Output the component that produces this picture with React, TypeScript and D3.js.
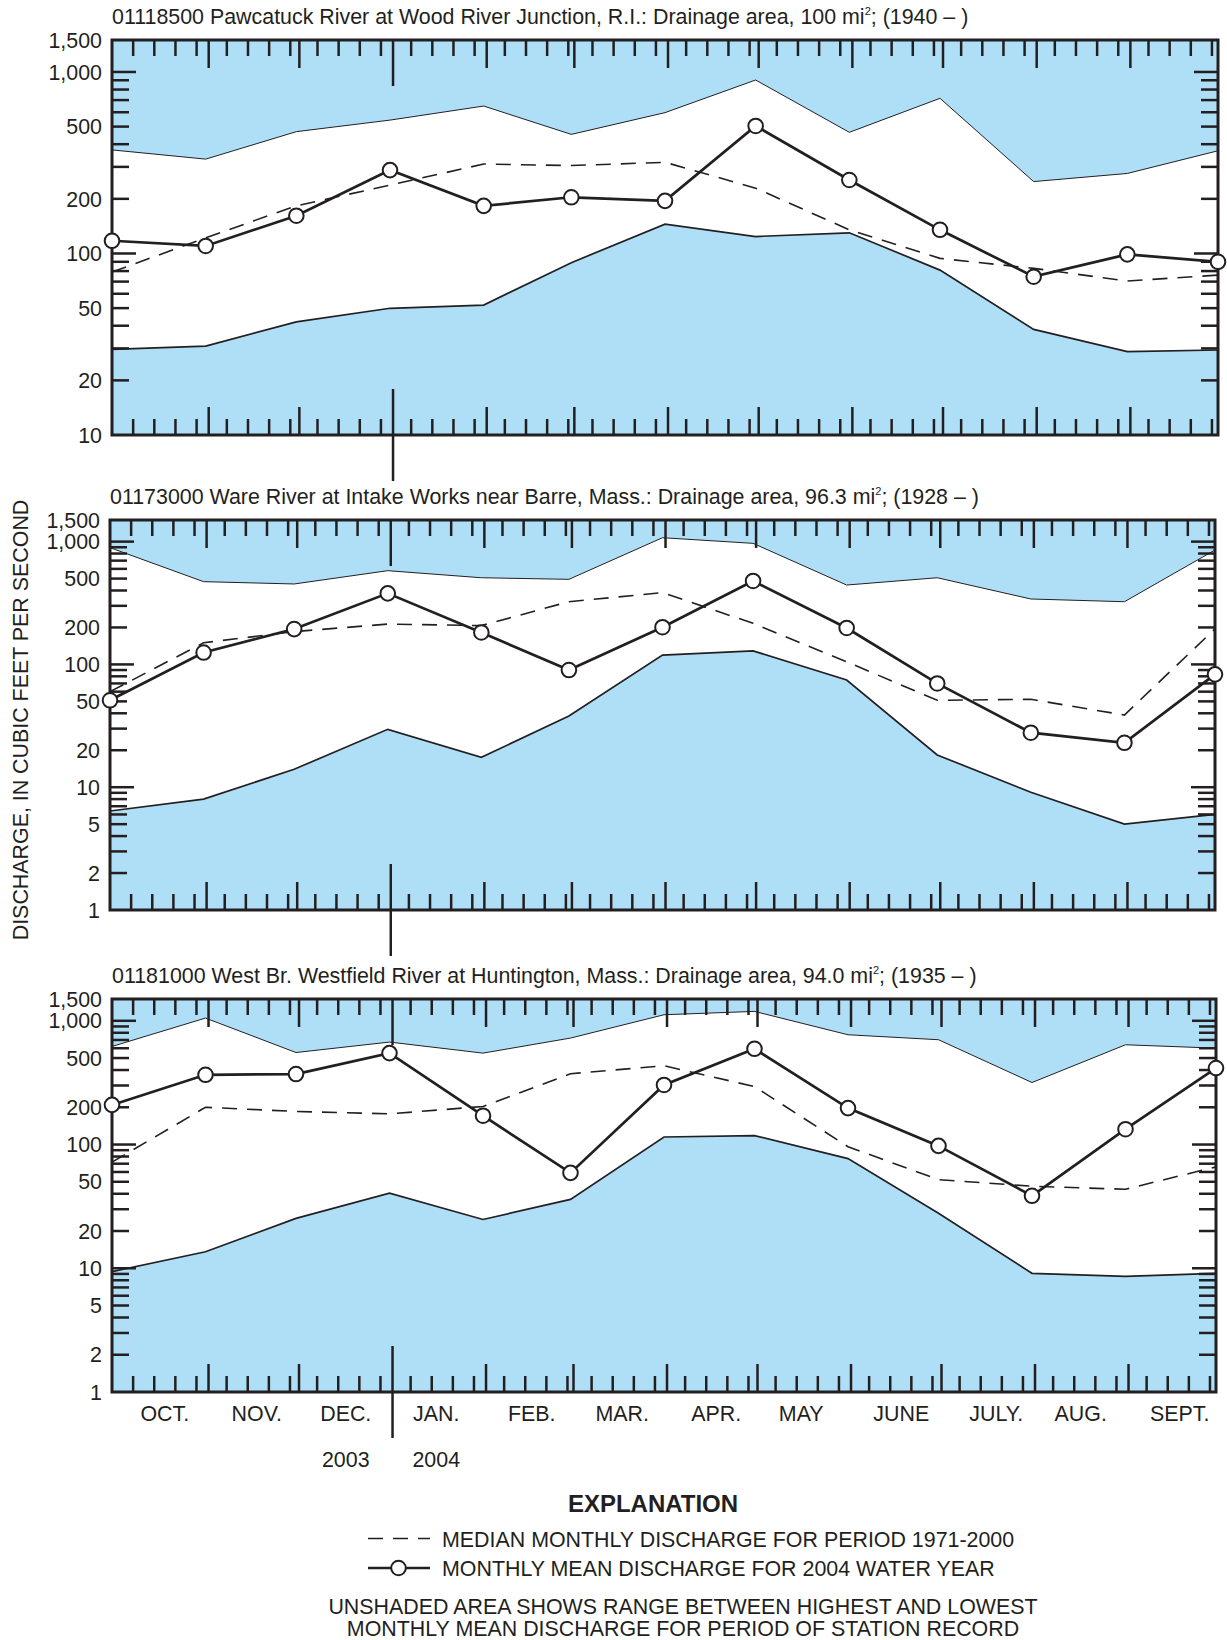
import React from 'react';
import * as d3 from 'd3';

// ---------------- DATA ----------------
const MONTH_LABELS = ['OCT.', 'NOV.', 'DEC.', 'JAN.', 'FEB.', 'MAR.', 'APR.', 'MAY', 'JUNE', 'JULY.', 'AUG.', 'SEPT.'];
const YEAR_LABELS = ['2003', '2004'];

const TITLE_MAIN = [
  '01118500 Pawcatuck River at Wood River Junction, R.I.: Drainage area, 100 mi',
  '01173000 Ware River at Intake Works near Barre, Mass.: Drainage area, 96.3 mi',
  '01181000 West Br. Westfield River at Huntington, Mass.: Drainage area, 94.0 mi',
];
const TITLE_RECORD = ['; (1940 – )', '; (1928 – )', '; (1935 – )'];

// values at Oct 1 2003 ... Oct 1 2004 (13 points)
const MAX_PAWCATUCK = [372, 331, 469, 543, 649, 453, 597, 903, 465, 716, 249, 276, 368];
const MIN_PAWCATUCK = [29.6, 30.9, 42, 49.9, 52, 89, 145, 124, 130, 81, 38.2, 28.8, 29.4];
const MEDIAN_PAWCATUCK = [79, 122, 183, 238, 311, 305, 318, 229, 135, 94, 82.8, 70.5, 76];
const MEAN_PAWCATUCK = [117.5, 110, 161.5, 288, 183, 204, 195, 504, 254, 135, 74.5, 98.9, 90];

const MAX_WARE = [893, 472, 452, 580, 508, 493, 1076, 968, 443, 508, 341, 324, 855];
const MIN_WARE = [6.4, 8.0, 14, 29.6, 17.5, 38, 119, 129, 74.6, 18.3, 9.1, 5.0, 6.0];
const MEDIAN_WARE = [60, 150, 185, 213, 207, 324, 384, 216, 105, 51, 52, 38.7, 195];
const MEAN_WARE = [51, 125, 194, 379, 182, 90, 201, 478, 198, 70, 27.8, 23, 83];

const MAX_WESTFIELD = [620, 1052, 554, 673, 548, 725, 1119, 1191, 771, 703, 317, 640, 601];
const MIN_WESTFIELD = [9.4, 13.6, 25.3, 40.4, 24.8, 36, 115, 118, 77, 27.8, 9.1, 8.6, 9.1];
const MEDIAN_WESTFIELD = [72, 200, 185, 177, 203, 373, 433, 294, 96, 52, 46, 43.5, 66];
const MEAN_WESTFIELD = [209, 366, 371, 548, 171, 59, 303, 594, 197, 97.5, 38.5, 133, 415];

const Y_DOMAIN_1 = [10, 1500];
const Y_DOMAIN_23 = [1, 1500];
const Y_LABELS_1 = [1500, 1000, 500, 200, 100, 50, 20, 10];
const Y_LABELS_23 = [1500, 1000, 500, 200, 100, 50, 20, 10, 5, 2, 1];

const Y_TITLE = 'DISCHARGE, IN CUBIC FEET PER SECOND';
const LEGEND_HEAD = 'EXPLANATION';
const LEGEND_MEDIAN = 'MEDIAN MONTHLY DISCHARGE FOR PERIOD 1971-2000';
const LEGEND_MEAN = 'MONTHLY MEAN DISCHARGE FOR 2004 WATER YEAR';
const NOTE_LINES = [
  'UNSHADED AREA SHOWS RANGE BETWEEN HIGHEST AND LOWEST',
  'MONTHLY MEAN DISCHARGE FOR PERIOD OF STATION RECORD',
];

// ---------------- LAYOUT / STYLE ----------------
const W = 1227;
const H = 1640;
const FONT = '"Liberation Sans", Arial, Helvetica, sans-serif';
const FS = 21.4;
const INK = '#231f20';
const BLUE = '#aedff7';
// small typesetting nudges of month labels from mid-month (px)
const LABEL_NUDGE = [6, 6, 3, 0, 5, 5, 7, 0, 8, 11, 2, 9];

const PANELS = [
  { top: 40, bottom: 435, left: 112, right: 1218, domain: Y_DOMAIN_1, labels: Y_LABELS_1,
    max: MAX_PAWCATUCK, min: MIN_PAWCATUCK, median: MEDIAN_PAWCATUCK, mean: MEAN_PAWCATUCK },
  { top: 520, bottom: 910, left: 110, right: 1215, domain: Y_DOMAIN_23, labels: Y_LABELS_23,
    max: MAX_WARE, min: MIN_WARE, median: MEDIAN_WARE, mean: MEAN_WARE },
  { top: 999, bottom: 1392, left: 112, right: 1216, domain: Y_DOMAIN_23, labels: Y_LABELS_23,
    max: MAX_WESTFIELD, min: MIN_WESTFIELD, median: MEDIAN_WESTFIELD, mean: MEAN_WESTFIELD },
];

const START = new Date(Date.UTC(2003, 9, 1));
const END = new Date(Date.UTC(2004, 9, 1));
const POINT_DATES = d3.utcMonth.range(START, new Date(Date.UTC(2004, 9, 2)));
const MONTH_STARTS = d3.utcMonth.range(START, END);

function minorTickDates(): Date[] {
  const out: Date[] = [];
  MONTH_STARTS.forEach((m) => {
    [8, 15, 22, 29].forEach((d) => {
      const dt = new Date(Date.UTC(m.getUTCFullYear(), m.getUTCMonth(), d));
      if (dt.getUTCMonth() === m.getUTCMonth()) out.push(dt);
    });
  });
  return out;
}
const MINOR_DATES = minorTickDates();
// month-boundary ticks sit at the end of the first day of each month
const MAJOR_DATES = MONTH_STARTS.slice(1).map((m) => d3.utcDay.offset(m, 1));
const YEAR_DATE = d3.utcDay.offset(new Date(Date.UTC(2004, 0, 1)), 1);

function Panel({ p, idx }: { p: any; idx: number }) {
  const x = d3.scaleUtc().domain([START, END]).range([p.left, p.right]);
  const y = d3.scaleLog().domain(p.domain).range([p.bottom, p.top]);
  const pts = (vals: number[]) => vals.map((v, i) => [x(POINT_DATES[i]), y(v)] as [number, number]);

  const area = d3.area<number>()
    .x((_, i) => x(POINT_DATES[i]))
    .y0((_, i) => y(p.min[i]))
    .y1((v) => y(v));
  const line = d3.line<[number, number]>();

  const yTicks = y.ticks().filter((v: number) => v > p.domain[0] && v < p.domain[1]);
  const isDecade = (v: number) => Math.abs(Math.log10(v) - Math.round(Math.log10(v))) < 1e-9;

  const tickW = 2.5;
  const minorLen = 16;
  const majorLen = 28;
  const yearLen = 46;
  const clipId = `clip${idx}`;

  return (
    <g>
      <defs>
        <clipPath id={clipId}>
          <rect x={p.left} y={p.top} width={p.right - p.left} height={p.bottom - p.top} />
        </clipPath>
      </defs>
      <text x={p.left} y={p.top - 16} fontSize={FS} fill={INK}>
        {TITLE_MAIN[idx]}
        <tspan fontSize={11} dy={-9}>2</tspan>
        <tspan dy={9}>{TITLE_RECORD[idx]}</tspan>
      </text>
      <rect x={p.left} y={p.top} width={p.right - p.left} height={p.bottom - p.top} fill={BLUE} />
      <g clipPath={`url(#${clipId})`}>
        <path d={area(p.max) || ''} fill="#ffffff" />
        <path d={line(pts(p.max)) || ''} fill="none" stroke={INK} strokeWidth={1} />
        <path d={line(pts(p.min)) || ''} fill="none" stroke={INK} strokeWidth={1.7} />
      </g>
      {/* x ticks */}
      {MINOR_DATES.map((d, i) => (
        <g key={`mn${i}`} stroke={INK} strokeWidth={tickW}>
          <line x1={x(d)} x2={x(d)} y1={p.top} y2={p.top + minorLen} />
          <line x1={x(d)} x2={x(d)} y1={p.bottom} y2={p.bottom - minorLen} />
        </g>
      ))}
      {MAJOR_DATES.map((d, i) => {
        const isYear = d.getTime() === YEAR_DATE.getTime();
        return (
          <g key={`mj${i}`} stroke={INK} strokeWidth={tickW}>
            <line x1={x(d)} x2={x(d)} y1={p.top} y2={p.top + (isYear ? yearLen : majorLen)} />
            {isYear ? (
              <line x1={x(d)} x2={x(d)} y1={p.bottom - yearLen} y2={p.bottom + yearLen} />
            ) : (
              <line x1={x(d)} x2={x(d)} y1={p.bottom} y2={p.bottom - majorLen} />
            )}
          </g>
        );
      })}
      {/* y ticks */}
      {yTicks.map((v: number, i: number) => {
        const len = isDecade(v) ? 24 : 17;
        return (
          <g key={`yt${i}`} stroke={INK} strokeWidth={tickW}>
            <line x1={p.left} x2={p.left + len} y1={y(v)} y2={y(v)} />
            <line x1={p.right} x2={p.right - len} y1={y(v)} y2={y(v)} />
          </g>
        );
      })}
      {p.labels.map((v: number, i: number) => (
        <text key={`yl${i}`} x={p.left - 10} y={y(v)} dy="0.36em" textAnchor="end" fontSize={FS} fill={INK}>
          {d3.format(',')(v)}
        </text>
      ))}
      <rect x={p.left} y={p.top} width={p.right - p.left} height={p.bottom - p.top}
        fill="none" stroke={INK} strokeWidth={3} />
      <path d={line(pts(p.median)) || ''} fill="none" stroke={INK} strokeWidth={1.6} strokeDasharray="15,10" />
      <path d={line(pts(p.mean)) || ''} fill="none" stroke={INK} strokeWidth={2.7} />
      {pts(p.mean).map(([cx, cy], i) => (
        <circle key={`c${i}`} cx={cx} cy={cy} r={7.3} fill="#ffffff" stroke={INK} strokeWidth={2} />
      ))}
    </g>
  );
}

export default function App() {
  const last = PANELS[2];
  const x = d3.scaleUtc().domain([START, END]).range([last.left, last.right]);
  const monthCenters = MONTH_STARTS.map((m, i) => (x(m) + x(d3.utcMonth.offset(m, 1))) / 2 + LABEL_NUDGE[i]);
  const labelY = last.bottom + 29;
  return (
    <svg width={W} height={H} viewBox={`0 0 ${W} ${H}`}
      style={{ position: 'absolute', left: 0, top: 0, display: 'block', background: '#ffffff' }}
      fontFamily={FONT}>
      <rect x={0} y={0} width={W} height={H} fill="#ffffff" />
      {PANELS.map((p, i) => <Panel key={i} p={p} idx={i} />)}
      <text transform="translate(28,720) rotate(-90)" textAnchor="middle" fontSize={FS} fill={INK}>
        {Y_TITLE}
      </text>
      {MONTH_LABELS.map((m, i) => (
        <text key={m} x={monthCenters[i]} y={labelY} textAnchor="middle" fontSize={FS} fill={INK}>{m}</text>
      ))}
      {YEAR_LABELS.map((yl, i) => (
        <text key={yl} x={monthCenters[2 + i]} y={labelY + 46} textAnchor="middle" fontSize={FS} fill={INK}>{yl}</text>
      ))}
      {/* legend */}
      <text x={653} y={1512} textAnchor="middle" fontSize={24} fontWeight="bold" fill={INK}>{LEGEND_HEAD}</text>
      <line x1={368} x2={430} y1={1538.5} y2={1538.5} stroke={INK} strokeWidth={1.6} strokeDasharray="15,10" />
      <text x={442} y={1546.5} fontSize={FS} fill={INK}>{LEGEND_MEDIAN}</text>
      <line x1={368} x2={430} y1={1568} y2={1568} stroke={INK} strokeWidth={2.7} />
      <circle cx={398.5} cy={1568} r={7.3} fill="#ffffff" stroke={INK} strokeWidth={2} />
      <text x={442} y={1575.5} fontSize={FS} fill={INK}>{LEGEND_MEAN}</text>
      {NOTE_LINES.map((t, i) => (
        <text key={i} x={683} y={1613.5 + i * 22} textAnchor="middle" fontSize={FS} fill={INK}>{t}</text>
      ))}
    </svg>
  );
}
